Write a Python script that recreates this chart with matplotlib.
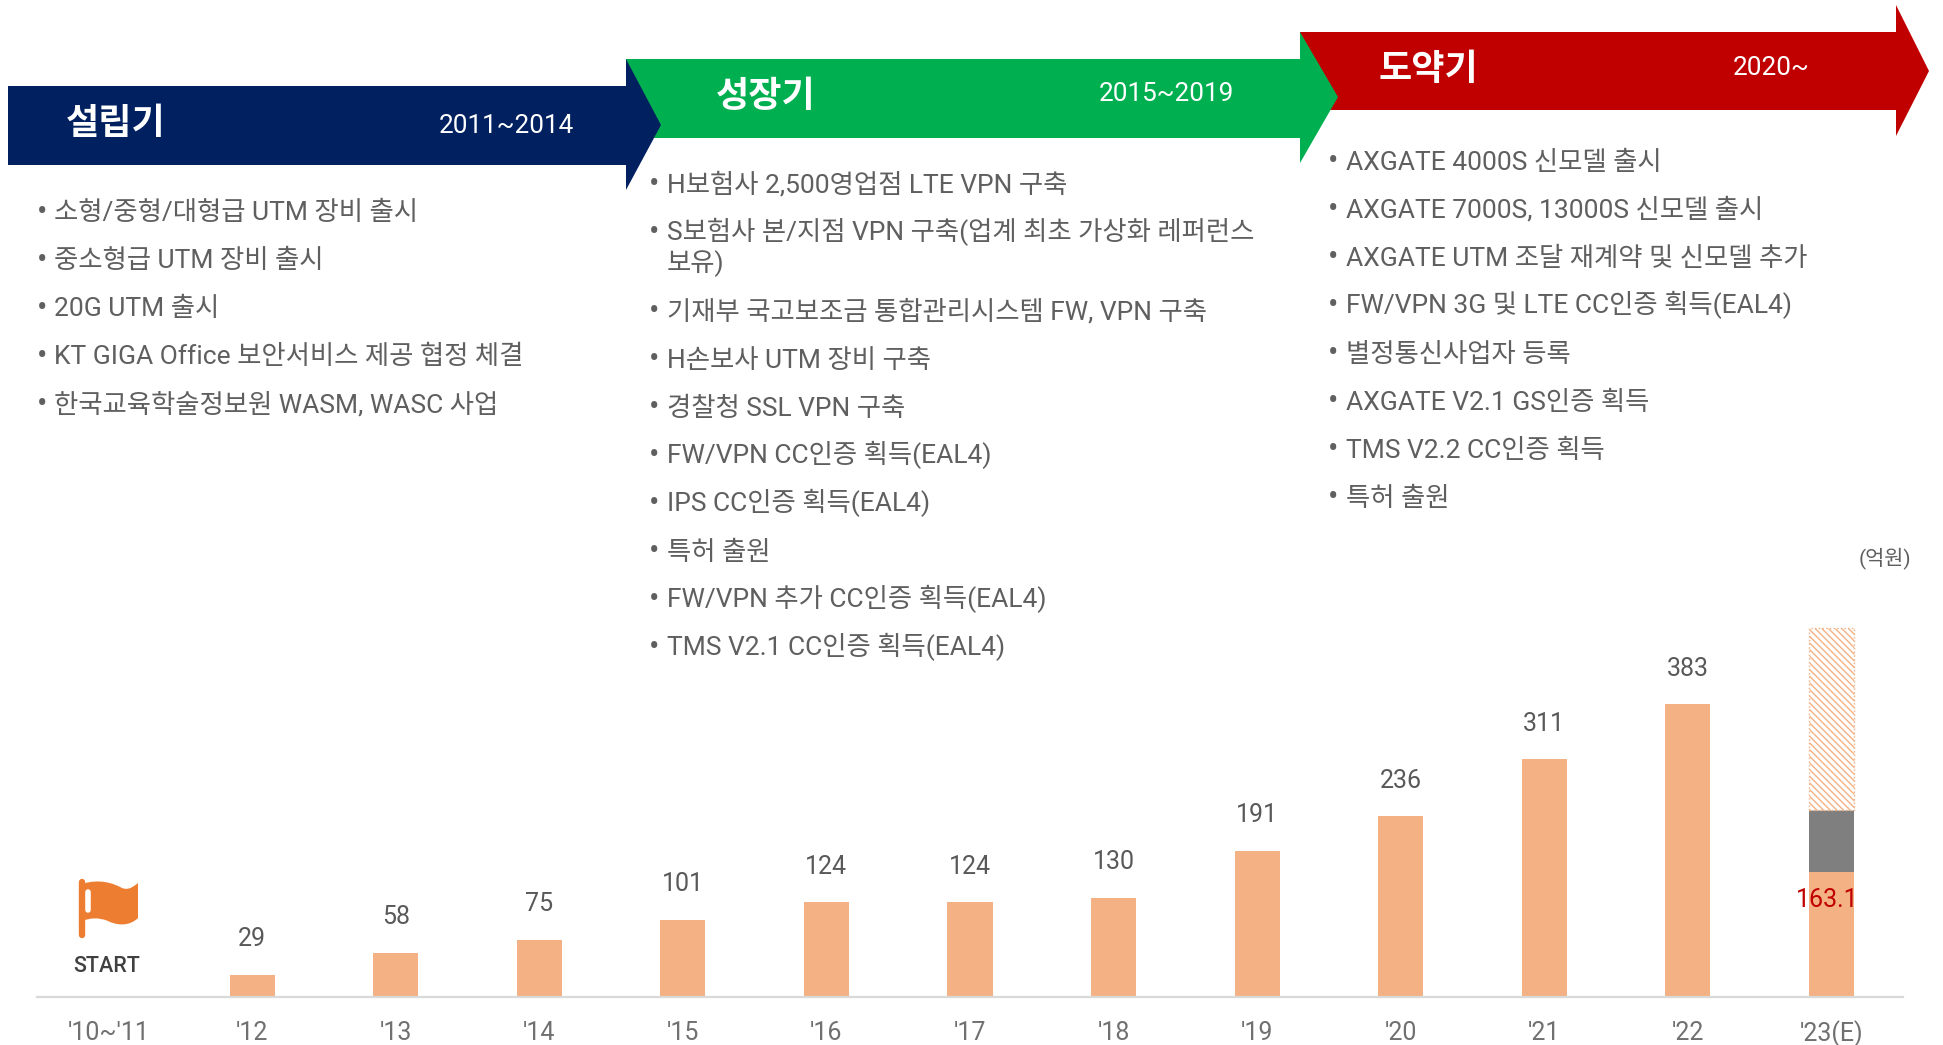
import matplotlib
matplotlib.use('Agg')
import matplotlib.pyplot as plt
from matplotlib.patches import Polygon, PathPatch
from matplotlib.path import Path

FONTS = ['Roboto', 'Noto Sans CJK KR', 'DejaVu Sans']
plt.rcParams['font.family'] = FONTS
plt.rcParams['hatch.linewidth'] = 1.0

years = ["'10~'11", "'12", "'13", "'14", "'15", "'16", "'17", "'18", "'19", "'20", "'21", "'22", "'23(E)"]
revenue = [0, 29, 58, 75, 101, 124, 124, 130, 191, 236, 311, 383, 163.1]
grey_part = 81
hatched_part = 238

phases = ['설립기', '성장기', '도약기']
periods = ['2011~2014', '2015~2019', '2020~']
items_1 = ['소형/중형/대형급 UTM 장비 출시', '중소형급 UTM 장비 출시', '20G UTM 출시',
           'KT GIGA Office 보안서비스 제공 협정 체결', '한국교육학술정보원 WASM, WASC 사업']
items_2 = ['H보험사 2,500영업점 LTE VPN 구축', 'S보험사 본/지점 VPN 구축(업계 최초 가상화 레퍼런스\n보유)',
           '기재부 국고보조금 통합관리시스템 FW, VPN 구축', 'H손보사 UTM 장비 구축', '경찰청 SSL VPN 구축',
           'FW/VPN CC인증 획득(EAL4)', 'IPS CC인증 획득(EAL4)', '특허 출원',
           'FW/VPN 추가 CC인증 획득(EAL4)', 'TMS V2.1 CC인증 획득(EAL4)']
items_3 = ['AXGATE 4000S 신모델 출시', 'AXGATE 7000S, 13000S 신모델 출시', 'AXGATE UTM 조달 재계약 및 신모델 추가',
           'FW/VPN 3G 및 LTE CC인증 획득(EAL4)', '별정통신사업자 등록', 'AXGATE V2.1 GS인증 획득',
           'TMS V2.2 CC인증 획득', '특허 출원']

TEXT = '#5f5f5f'
W, H = 1943, 1045
fig = plt.figure(figsize=(W / 100, H / 100), dpi=100)

# whole-figure layer in pixels for the arrows and text
bg = fig.add_axes([0, 0, 1, 1])
bg.set_xlim(0, W)
bg.set_ylim(H, 0)
bg.axis('off')

bg.add_patch(Polygon([(1300, 32), (1896, 32), (1896, 5), (1929, 71), (1896, 136), (1896, 110), (1300, 110)],
                     fc='#C00000', ec='none'))
bg.add_patch(Polygon([(626, 59), (1300, 59), (1300, 32), (1338, 97), (1300, 163), (1300, 138), (626, 138)],
                     fc='#00B050', ec='none'))
bg.add_patch(Polygon([(8, 86), (626, 86), (626, 59), (661, 125), (626, 190), (626, 165), (8, 165)],
                     fc='#002060', ec='none'))

for name, period, nx, px, y, py in zip(phases, periods, [66, 716, 1379], [574, 1234, 1810],
                                       [123.5, 96.5, 69.5], [126, 94, 68]):
    bg.text(nx, y, name, fontsize=26, fontweight='bold', color='white', va='center', ha='left',
            family=['Noto Sans CJK KR', 'DejaVu Sans'])
    bg.text(px, py, period, fontsize=18.8, color='white', va='center', ha='right')


def draw_items(items, bullet_x, text_x, start_y):
    y = start_y
    for item in items:
        bg.text(bullet_x, y + 9.5, '•', fontsize=22, color=TEXT, va='baseline', ha='center')
        lines = item.split('\n')
        for n, line in enumerate(lines):
            bg.text(text_x, y + 9, line, fontsize=19, color=TEXT, va='baseline', ha='left')
            y += 31 if n < len(lines) - 1 else 48


draw_items(items_1, 42, 54, 211.5)
draw_items(items_2, 654, 667, 183.5)
draw_items(items_3, 1333, 1346, 160.5)

# flag
flag = Path([(82, 884), (100, 878), (115, 884), (122, 888), (130, 891), (135, 885), (138, 883),
             (138, 918), (130, 926), (118, 926), (108, 921), (98, 917), (90, 918), (82, 921), (82, 884)],
            [Path.MOVETO, Path.CURVE4, Path.CURVE4, Path.CURVE4, Path.CURVE4, Path.CURVE4, Path.CURVE4,
             Path.LINETO, Path.CURVE4, Path.CURVE4, Path.CURVE4, Path.CURVE4, Path.CURVE4, Path.CURVE4,
             Path.CLOSEPOLY])
bg.add_patch(PathPatch(flag, fc='#ED7D31', ec='none'))
bg.plot([81.5, 81.5], [882, 935], color='#ED7D31', lw=4.6, solid_capstyle='round')
bg.plot([88, 88], [892, 910], color='white', lw=4, solid_capstyle='round')
bg.text(107, 966, 'START', fontsize=15.5, color='#404040', va='center', ha='center', fontweight='medium')
bg.text(1911, 558, '(억원)', fontsize=15, color=TEXT, va='center', ha='right')

# bar chart layer
ax = fig.add_axes([37 / W, (H - 997) / H, 1866 / W, 440 / H])
ax.patch.set_alpha(0)
ax.set_xlim(-0.5, 12.5)
ax.set_ylim(0, 440 / 0.765)
x = list(range(len(years)))
bar_w = 0.314
ax.bar(x, revenue, width=bar_w, color='#F4B183', linewidth=0)
last = x[-1]
ax.bar(last, grey_part, bottom=revenue[-1], width=bar_w, color='#7F7F7F', linewidth=0)
ax.bar(last, hatched_part, bottom=revenue[-1] + grey_part, width=bar_w, facecolor='white',
       edgecolor='#F4B183', hatch='\\\\\\\\\\', linewidth=1, linestyle=':')

for i, v in enumerate(revenue[:-1]):
    if v > 0:
        ax.annotate(str(v), (i, v), xytext=(0, 25.5), textcoords='offset points', ha='center', va='center',
                    fontsize=18, color='#595959')
ax.annotate(str(revenue[-1]), (last, revenue[-1]), xytext=(-3, -20), textcoords='offset points', ha='center',
            va='center', fontsize=18, color='#C00000')

ax.set_xticks(x)
ax.set_xticklabels(years, fontsize=18, color='#707070')
ax.tick_params(axis='x', length=0, pad=17)
ax.set_yticks([])
for s in ['top', 'left', 'right']:
    ax.spines[s].set_visible(False)
ax.spines['bottom'].set_color('#D9D9D9')
ax.spines['bottom'].set_linewidth(1.6)

fig.savefig('out.png', dpi=100)
